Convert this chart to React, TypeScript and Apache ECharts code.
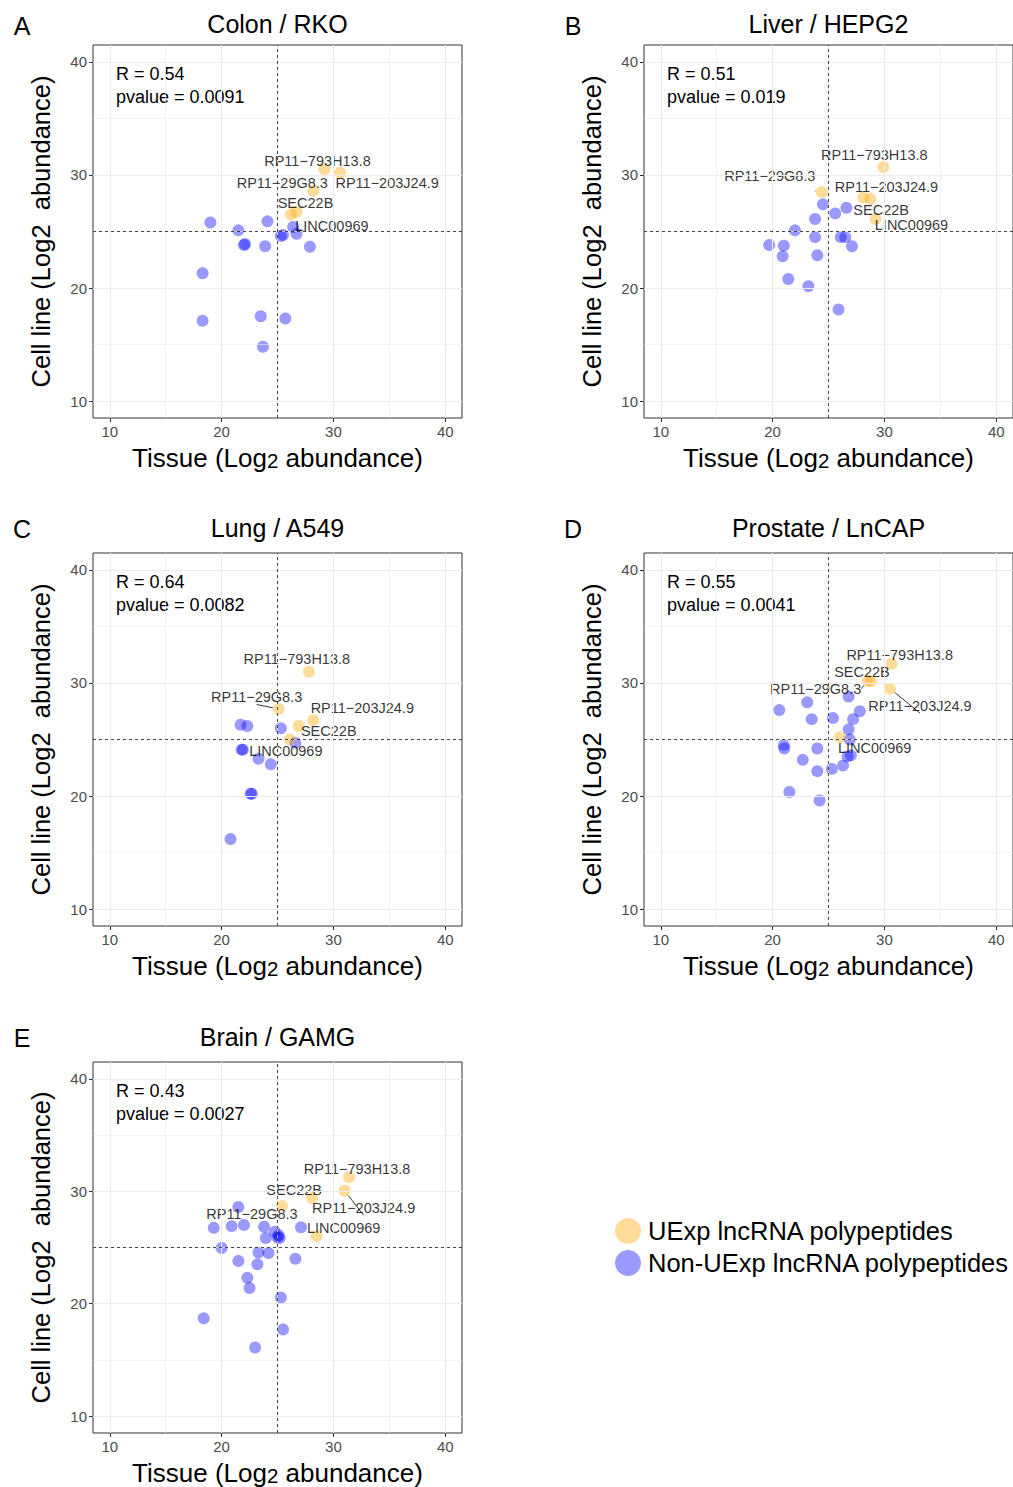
import React, { useEffect, useRef } from "react";
import * as echarts from "echarts";

const FONT = '"Liberation Sans", Arial, Helvetica, sans-serif';

// ---------- data ----------
const uexpNames = ["RP11−793H13.8", "RP11−203J24.9", "RP11−29G8.3", "SEC22B", "LINC00969"];
const legendNames = ["UExp lncRNA polypeptides", "Non-UExp lncRNA polypeptides"];
const tickValues = [10, 20, 30, 40];
const gridValues = [10, 15, 20, 25, 30, 35, 40];

// Colon / RKO
const colonUexpTissue = [29.2, 30.6, 28.2, 26.7, 26.2];
const colonUexpCell = [30.5, 30.2, 28.6, 26.75, 26.5];
const colonNonTissue = [19.0, 21.5, 24.1, 26.4, 26.7, 25.3, 25.5, 22.0, 22.1, 23.9, 27.9, 18.3, 18.3, 23.5, 25.7, 23.7];
const colonNonCell = [25.8, 25.1, 25.9, 25.4, 24.8, 24.6, 24.7, 23.8, 23.9, 23.7, 23.65, 21.3, 17.1, 17.5, 17.3, 14.8];

// Liver / HEPG2
const liverUexpTissue = [29.9, 28.75, 24.4, 28.1, 29.2];
const liverUexpCell = [30.7, 27.9, 28.5, 28.0, 26.1];
const liverNonTissue = [24.5, 26.6, 25.6, 23.8, 22.0, 23.8, 26.1, 26.5, 27.1, 19.7, 21.0, 20.9, 24.0, 21.4, 23.2, 25.9];
const liverNonCell = [27.4, 27.1, 26.6, 26.1, 25.1, 24.5, 24.5, 24.5, 23.7, 23.8, 23.75, 22.8, 22.9, 20.8, 20.15, 18.1];

// Lung / A549
const lungUexpTissue = [27.8, 28.2, 25.1, 26.9, 26.1];
const lungUexpCell = [31.0, 26.7, 27.7, 26.2, 25.0];
const lungNonTissue = [21.7, 22.3, 25.3, 26.6, 21.8, 21.9, 23.3, 24.4, 22.6, 22.7, 20.8];
const lungNonCell = [26.3, 26.2, 26.0, 24.7, 24.1, 24.1, 23.3, 22.8, 20.2, 20.2, 16.2];

// Prostate / LnCAP
const prostateUexpTissue = [30.65, 30.5, 28.5, 28.8, 26.0];
const prostateUexpCell = [31.7, 29.5, 30.2, 30.15, 25.2];
const prostateNonTissue = [26.8, 23.1, 20.6, 27.8, 23.5, 25.4, 27.2, 26.8, 26.9, 21.0, 21.05, 24.0, 26.7, 27.0, 22.7, 26.3, 25.3, 24.0, 21.5, 24.2];
const prostateNonCell = [28.8, 28.3, 27.6, 27.5, 26.8, 26.9, 26.8, 25.9, 25.0, 24.5, 24.2, 24.2, 23.5, 23.6, 23.2, 22.7, 22.4, 22.2, 20.35, 19.6];

// Brain / GAMG
const brainUexpTissue = [31.4, 31.0, 25.4, 28.1, 28.5];
const brainUexpCell = [31.25, 30.05, 28.7, 29.4, 26.0];
const brainNonTissue = [21.5, 19.3, 20.9, 22.0, 23.8, 27.1, 24.75, 25.1, 25.0, 25.2, 23.95, 20.0, 23.3, 24.2, 26.6, 21.5, 23.2, 22.3, 22.5, 25.3, 18.4, 25.5, 23.0];
const brainNonCell = [28.6, 26.75, 26.9, 27.0, 26.85, 26.8, 26.4, 26.1, 25.9, 25.85, 25.85, 24.95, 24.55, 24.5, 24.0, 23.8, 23.5, 22.3, 21.4, 20.55, 18.7, 17.7, 16.1];

const rValues = ["0.54", "0.51", "0.64", "0.55", "0.43"];
const pValues = ["0.0091", "0.019", "0.0082", "0.0041", "0.0027"];
const panelTitles = ["Colon / RKO", "Liver / HEPG2", "Lung / A549", "Prostate / LnCAP", "Brain / GAMG"];
const panelLetters = ["A", "B", "C", "D", "E"];

// ---------- layout (pixels) ----------
const colonLabelOffsets = [[-7, -8], [47, 10], [-31, -8], [9, -9], [41, 11]];
const liverLabelOffsets = [[-9, -12], [16, -12], [-52, -16], [18, 12], [36, 6]];
const lungLabelOffsets = [[-12, -13], [49, -12], [-22, -12], [30, 5], [-4, 11]];
const prostateLabelOffsets = [[8, -9], [30, 17], [-52, 8], [-9, -9], [35, 11]];
const brainLabelOffsets = [[8, -8], [19, 17], [-30, 8], [-18, -8], [27, -8]];
const colonLeaders: number[] = [];
const liverLeaders = [2];
const lungLeaders = [2];
const prostateLeaders = [1, 2];
const brainLeaders = [1];

const gridBoxes = [
  { left: 93, top: 45, titleDy: -21, letterDy: -19 },
  { left: 644, top: 45, titleDy: -21, letterDy: -19 },
  { left: 93, top: 553, titleDy: -25, letterDy: -24 },
  { left: 644, top: 553, titleDy: -25, letterDy: -24 },
  { left: 93, top: 1062, titleDy: -25, letterDy: -24 },
];
const GW = 369;
const GH = 373;

const panels = [
  { ut: colonUexpTissue, uc: colonUexpCell, nt: colonNonTissue, nc: colonNonCell, off: colonLabelOffsets, lead: colonLeaders },
  { ut: liverUexpTissue, uc: liverUexpCell, nt: liverNonTissue, nc: liverNonCell, off: liverLabelOffsets, lead: liverLeaders },
  { ut: lungUexpTissue, uc: lungUexpCell, nt: lungNonTissue, nc: lungNonCell, off: lungLabelOffsets, lead: lungLeaders },
  { ut: prostateUexpTissue, uc: prostateUexpCell, nt: prostateNonTissue, nc: prostateNonCell, off: prostateLabelOffsets, lead: prostateLeaders },
  { ut: brainUexpTissue, uc: brainUexpCell, nt: brainNonTissue, nc: brainNonCell, off: brainLabelOffsets, lead: brainLeaders },
];

const xNameRich = {
  n: { fontSize: 26, lineHeight: 30, fontFamily: FONT, color: "#000", verticalAlign: "bottom" as const },
  s: { fontSize: 20.5, lineHeight: 16, fontFamily: FONT, color: "#000", verticalAlign: "bottom" as const },
};

function buildOption() {
  const grid: any[] = [];
  const xAxis: any[] = [];
  const yAxis: any[] = [];
  const series: any[] = [];
  const graphic: any[] = [];

  panels.forEach((p, i) => {
    const g = gridBoxes[i];
    grid.push({
      left: g.left,
      top: g.top,
      width: GW,
      height: GH,
      show: true,
      borderColor: "#333",
      borderWidth: 1,
      backgroundColor: "#fff",
      containLabel: false,
    });
    const axisCommon = {
      type: "value",
      gridIndex: i,
      min: 8.5,
      max: 41.5,
      axisLine: { show: false },
      axisTick: { show: true, length: 4, lineStyle: { color: "#333", width: 1 }, customValues: tickValues },
      axisLabel: { color: "#4d4d4d", fontSize: 15, fontFamily: FONT, margin: 6, customValues: tickValues },
      splitLine: { show: false },
    };
    xAxis.push({
      ...axisCommon,
      name: "{n|Tissue (Log}{s|2}{n| abundance)}",
      nameLocation: "middle",
      nameGap: 23,
      nameTextStyle: { rich: xNameRich, fontSize: 26, fontFamily: FONT, color: "#000" },
    });
    yAxis.push({
      ...axisCommon,
      name: "Cell line (Log2  abundance)",
      nameLocation: "middle",
      nameGap: 39,
      nameTextStyle: { fontSize: 25.5, fontFamily: FONT, color: "#000" },
    });

    const gridLineData: any[] = [];
    gridValues.forEach((v) => {
      const major = v % 10 === 0;
      const ls = { color: "#ebebeb", width: major ? 1.1 : 0.6, type: "solid" };
      gridLineData.push({ xAxis: v, lineStyle: ls });
      gridLineData.push({ yAxis: v, lineStyle: ls });
    });
    gridLineData.push({ xAxis: 25, lineStyle: { color: "#333", width: 0.9, type: [3, 3] } });
    gridLineData.push({ yAxis: 25, lineStyle: { color: "#333", width: 0.9, type: [3, 3] } });

    series.push({
      type: "scatter",
      xAxisIndex: i,
      yAxisIndex: i,
      data: [],
      silent: true,
      z: 1,
      markLine: {
        silent: true,
        symbol: ["none", "none"],
        animation: false,
        label: { show: false },
        data: gridLineData,
      },
    });

    series.push({
      type: "scatter",
      name: legendNames[1],
      xAxisIndex: i,
      yAxisIndex: i,
      symbolSize: 12,
      z: 3,
      itemStyle: { color: "rgba(0,0,255,0.5)" },
      data: p.nt.map((x, k) => [x, p.nc[k]]),
    });

    series.push({
      type: "scatter",
      name: legendNames[0],
      xAxisIndex: i,
      yAxisIndex: i,
      symbolSize: 12,
      z: 4,
      itemStyle: { color: "rgba(255,165,0,0.5)" },
      labelLine: { show: false },
      data: p.ut.map((x, k) => ({
        value: [x, p.uc[k]],
        name: uexpNames[k],
        label: {
          show: true,
          position: "inside",
          offset: p.off[k],
          formatter: "{b}",
          color: "#000",
          textBorderWidth: 0,
          textBorderColor: "transparent",
          fontSize: 14.5,
          fontFamily: FONT,
        },
        labelLine: p.lead.includes(k)
          ? { show: true, length2: 0, smooth: false, lineStyle: { color: "#000", width: 0.8 } }
          : { show: false },
      })),
    });

    // annotations
    graphic.push({
      type: "text",
      left: g.left + 23,
      top: g.top + 20,
      style: { text: `R = ${rValues[i]}`, fontSize: 18, fontFamily: FONT, fill: "#000" },
    });
    graphic.push({
      type: "text",
      left: g.left + 23,
      top: g.top + 43,
      style: { text: `pvalue = ${pValues[i]}`, fontSize: 18, fontFamily: FONT, fill: "#000" },
    });
    graphic.push({
      type: "text",
      x: g.left + GW / 2,
      y: g.top + g.titleDy,
      style: {
        text: panelTitles[i],
        fontSize: 25,
        fontFamily: FONT,
        fill: "#000",
        textAlign: "center",
        textVerticalAlign: "middle",
      },
    });
    graphic.push({
      type: "text",
      x: g.left - 71,
      y: g.top + g.letterDy,
      style: {
        text: panelLetters[i],
        fontSize: 25,
        fontFamily: FONT,
        fill: "#000",
        textAlign: "center",
        textVerticalAlign: "middle",
      },
    });
  });

  return {
    animation: false,
    backgroundColor: "#fff",
    textStyle: { fontFamily: FONT },
    grid,
    xAxis,
    yAxis,
    series,
    graphic,
    legend: {
      data: legendNames,
      orient: "vertical",
      left: 610,
      top: 1213,
      itemWidth: 26,
      itemHeight: 26,
      itemGap: 6,
      icon: "circle",
      selectedMode: false,
      textStyle: { fontSize: 25.5, fontFamily: FONT, color: "#000", padding: [0, 0, 0, 2] },
    },
  };
}

export default function App() {
  const ref = useRef<HTMLDivElement>(null);
  useEffect(() => {
    if (!ref.current) return;
    const chart = echarts.init(ref.current, undefined, { renderer: "svg" });
    chart.setOption(buildOption() as any);
    return () => chart.dispose();
  }, []);
  return (
    <div
      ref={ref}
      style={{ position: "absolute", left: 0, top: 0, width: 1013, height: 1487, background: "#fff" }}
    />
  );
}
